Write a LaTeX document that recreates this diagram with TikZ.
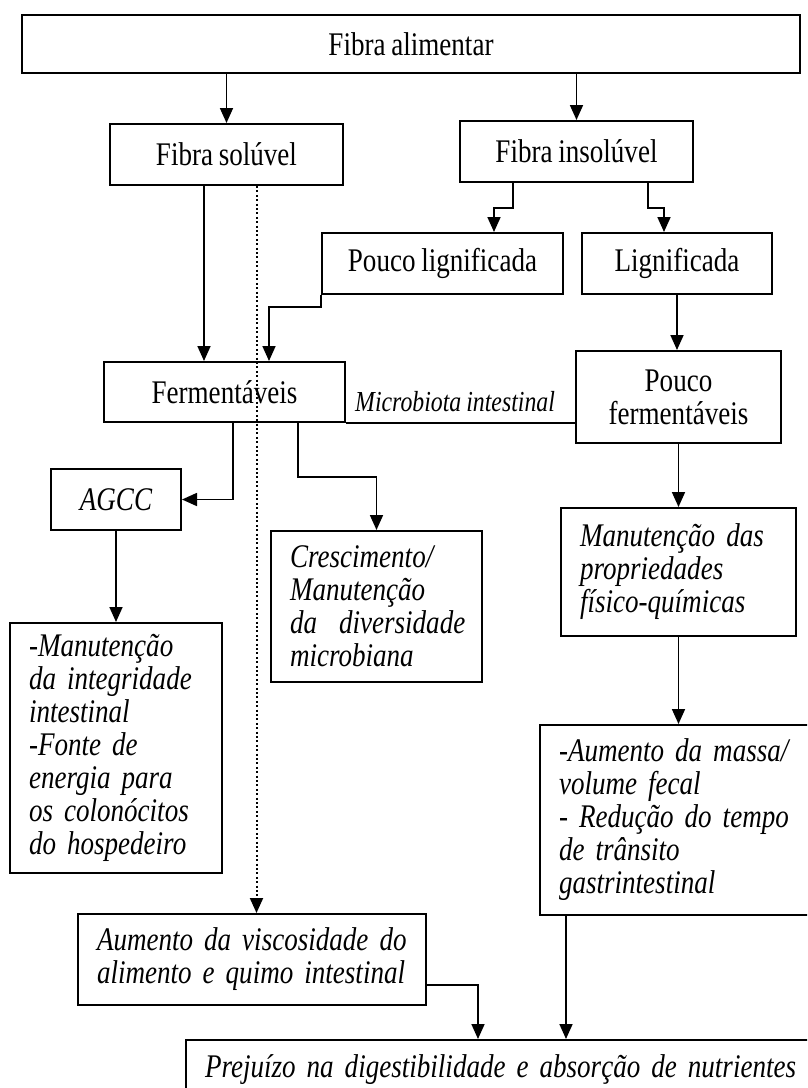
\documentclass[tikz,border=0pt]{standalone}
\usepackage{fontspec}
\setmainfont{Liberation Serif}[FakeStretch=0.82,WordSpace=0.85]
\usetikzlibrary{arrows.meta,calc}
\newcommand\myfs{\fontsize{33}{33}\selectfont}
\begin{document}
\begin{tikzpicture}[x=1pt,y=-1pt,
  box/.style={draw, line width=2pt, inner sep=0pt, font=\myfs, anchor=north west},
  ml/.style={box, align=left, inner xsep=19pt, font=\myfs\itshape},
  arr/.style={line width=1.7pt, -{Triangle[width=13pt,length=15pt]}},
  dotarr/.style={line width=2pt, dash pattern=on 2pt off 2.4pt, -{Triangle[width=13pt,length=15pt]}},
]
\path[use as bounding box, fill=white] (0,0) rectangle (807,1088);
\clip (0,0) rectangle (807,1088);

\node[box, minimum width=778, minimum height=58] (top) at (21,14) {Fibra alimentar};
\node[box, minimum width=233, minimum height=61] (sol) at (109,123) {Fibra solúvel};
\node[box, minimum width=233, minimum height=61] (ins) at (459,120) {Fibra insolúvel};
\node[box, minimum width=241, minimum height=61] (pl) at (321,232) {Pouco lignificada};
\node[box, minimum width=190, minimum height=61] (lig) at (581,232) {Lignificada};
\node[box, minimum width=241, minimum height=60] (ferm) at (103,361) {Fermentáveis};
\node[box, minimum width=205, minimum height=92, align=center] (pf) at (575,350) {Pouco\\fermentáveis};
\node[box, minimum width=130, minimum height=61, font=\myfs\itshape] (agcc) at (50,468) {AGCC};
\node[ml, text width=173, minimum height=151] (cresc) at (270,530) {\mbox{Crescimento/}\\\mbox{Manutenção}\\\mbox{da\ \ diversidade}\\\mbox{microbiana}};
\node[ml, text width=197, minimum height=128] (mp) at (560,507) {\mbox{Manutenção das}\\propriedades\\físico-químicas};
\node[ml, text width=174, minimum height=250] (integ) at (9,622) {-Manutenção\\da integridade\\intestinal\\-Fonte de\\energia para\\os colonócitos\\do hospedeiro};
\node[ml, text width=302, minimum height=190] (am) at (539,724) {-Aumento da massa/\\volume fecal\\- Redução do tempo\\de trânsito\\gastrintestinal};
\node[ml, text width=310, minimum height=91] (visc) at (77,913) {Aumento da viscosidade do\\alimento e quimo intestinal};
\node[ml, text width=682, minimum height=60] (prej) at (185,1039) {Prejuízo na digestibilidade e absorção de nutrientes};
\node[font=\fontsize{29}{30}\selectfont\itshape, anchor=base west, inner sep=0pt] (mic) at (355,411) {Microbiota intestinal};

% connectors
\draw[arr] (sol.north |- top.south) -- (sol.north);
\draw[arr] (ins.north |- top.south) -- (ins.north);
\coordinate (s1) at ([xshift=-22.5pt]sol.south);
\draw[arr] (s1) -- (s1 |- ferm.north);
\coordinate (d1) at ([xshift=30pt]sol.south);
\draw[dotarr] (d1) -- (d1 |- visc.north);
\draw[arr] ([xshift=-63.5pt]ins.south) -- ++(0,25) -| ([xshift=51.5pt]pl.north);
\draw[arr] ([xshift=71.5pt]ins.south) -- ++(0,25) -| ([xshift=-13pt]lig.north);
\draw[arr] (pl.south west) -- ++(0,12) -| ([xshift=44.5pt]ferm.north);
\draw[arr] (lig.south) -- (lig.south |- pf.north);
\draw[arr] (pf.south) -- (mp.north);
\draw[arr] (mp.south) -- (mp.south |- am.north);
\coordinate (a1) at ([xshift=27pt]am.south west);
\draw[arr] (a1) -- (a1 |- prej.north);
\draw[arr] ([yshift=-25.5pt]visc.east) -| ($(prej.north west)+(293,0)$);
\draw[arr] ([xshift=8.5pt]ferm.south) |- (agcc.east);
\draw[arr] ([xshift=73.5pt]ferm.south) -- ++(0,54) -| (cresc.north);
\draw[arr] (agcc.south) -- (agcc.south |- integ.north);
\draw[line width=2pt] (ferm.south east) -- (ferm.south east -| pf.west);
\end{tikzpicture}
\end{document}
